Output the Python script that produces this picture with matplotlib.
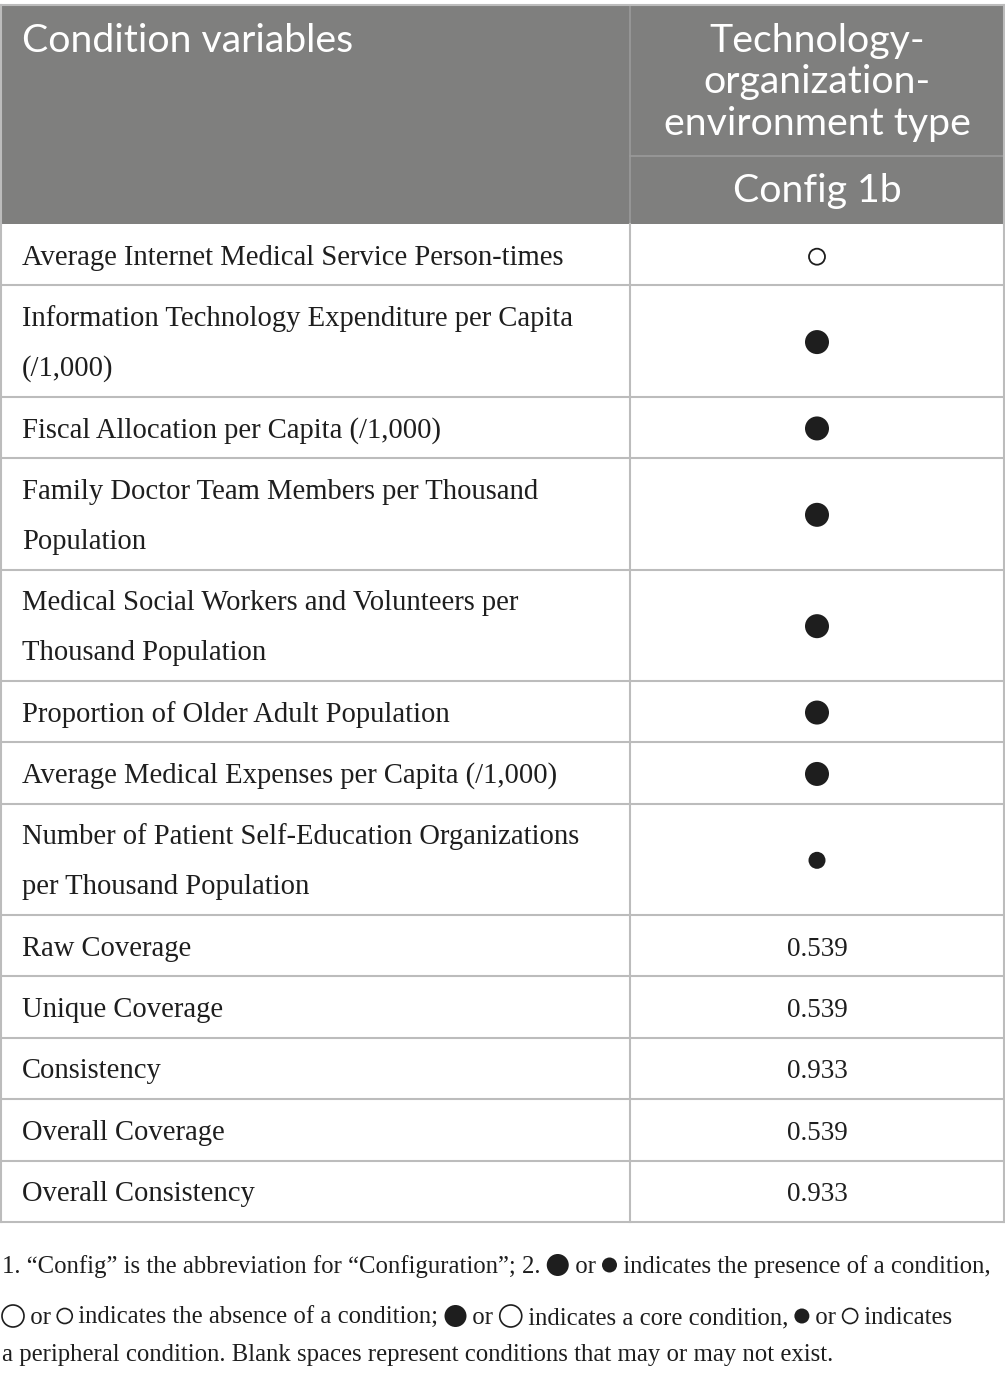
import matplotlib.pyplot as plt
from matplotlib.patches import Rectangle, Circle

# table content
conditions = [
    "Average Internet Medical Service Person-times",
    "Information Technology Expenditure per Capita\n(/1,000)",
    "Fiscal Allocation per Capita (/1,000)",
    "Family Doctor Team Members per Thousand\nPopulation",
    "Medical Social Workers and Volunteers per\nThousand Population",
    "Proportion of Older Adult Population",
    "Average Medical Expenses per Capita (/1,000)",
    "Number of Patient Self-Education Organizations\nper Thousand Population",
]
# C = core present, c = peripheral present, o = peripheral absent
config_1b = ["o", "C", "C", "C", "C", "C", "C", "c"]

stat_labels = ["Raw Coverage", "Unique Coverage", "Consistency",
               "Overall Coverage", "Overall Consistency"]
stat_values = ["0.539", "0.539", "0.933", "0.539", "0.933"]

header_left = "Condition variables"
header_group = "Technology-\norganization-\nenvironment type"
header_config = "Config 1b"

W, H = 1005, 1374
fig = plt.figure(figsize=(W / 100, H / 100), dpi=100)
ax = fig.add_axes([0, 0, 1, 1])
ax.set_xlim(0, W)
ax.set_ylim(H, 0)
ax.axis('off')

serif = ['Liberation Serif', 'DejaVu Serif']
sans = 'Lato'
grey = '#7f7f7e'
line_c = '#bcbcbc'
ink = '#1e1e1e'
x0, xm, x1 = 1, 630, 1004
xc = 817
top, head_split, head_bot = 5, 156, 224

# header
ax.add_patch(Rectangle((x0, top), x1 - x0, head_bot - top, color=grey, lw=0))
ax.plot([xm, xm], [top, head_bot], color='#9a9a9a', lw=1.2)
ax.plot([xm, x1], [head_split, head_split], color='#9a9a9a', lw=1.2)
ax.text(22, 41, header_left, color='white', fontsize=28.3, family=sans,
        va='center', ha='left')
for i, ln in enumerate(header_group.split("\n")):
    ax.text(xc, 41 + i * 41.5, ln, color='white', fontsize=28.3, family=sans,
            va='center', ha='center')
ax.text(xc, 191, header_config, color='white', fontsize=28.3, family=sans,
        va='center', ha='center')

# body rows
labels = conditions + stat_labels
cells = config_1b + stat_values
y = head_bot
edges = [y]
for lab, cell in zip(labels, cells):
    n = lab.count("\n") + 1
    h = 61.4 if n == 1 else 111.35
    mid = y + h / 2
    for i, ln in enumerate(lab.split("\n")):
        ax.text(22, mid + 10 + (i - (n - 1) / 2) * 50, ln, fontsize=20.6,
                family=serif, color=ink, va='baseline', ha='left')
    if cell == "C":
        ax.add_patch(Circle((xc, mid + 1), 12, color=ink, lw=0))
    elif cell == "c":
        ax.add_patch(Circle((xc, mid + 1), 8.5, color=ink, lw=0))
    elif cell == "o":
        ax.add_patch(Circle((xc, mid + 2), 8, fill=False, ec=ink, lw=1.3))
    else:
        ax.text(xc, mid + 10, cell, fontsize=19.5, family=serif, color=ink,
                va='baseline', ha='center')
    y += h
    edges.append(y)

for e in edges[1:]:
    ax.plot([x0, x1], [e, e], color=line_c, lw=1.5)
ax.plot([x0, x1], [top, top], color=line_c, lw=1.5)
for xx in (x0, xm, x1):
    ax.plot([xx, xx], [head_bot, edges[-1]], color=line_c, lw=1.5)
ax.plot([x0, x0], [top, head_bot], color=line_c, lw=1.5)
ax.plot([x1, x1], [top, head_bot], color=line_c, lw=1.5)

# footnote, drawn piece by piece so the circle symbols sit inline
note = [
    ["1. \u201cConfig\u201d is the abbreviation for \u201cConfiguration\u201d; 2. ",
     "C", " or ", "c", " indicates the presence of a condition,"],
    ["O", " or ", "o", " indicates the absence of a condition; ", "C", " or ",
     "O", " indicates a core condition, ", "c", " or ", "o", " indicates"],
    ["a peripheral condition. Blank spaces represent conditions that may or may not exist."],
]
note_y = [1273, 1324, 1361]
fig.canvas.draw()
rend = fig.canvas.get_renderer()
sizes = {"C": 11, "c": 7.5, "O": 11, "o": 7.5}
for parts, ly in zip(note, note_y):
    x = 2
    for p in parts:
        if p in sizes:
            r = sizes[p]
            if p in ("O", "o"):
                ax.add_patch(Circle((x + r, ly - 8), r, fill=False, ec=ink, lw=1.2))
            else:
                ax.add_patch(Circle((x + r, ly - 8), r, color=ink, lw=0))
            x += 2 * r
        else:
            t = ax.text(x, ly, p, fontsize=17.8, family=serif, color=ink,
                        va='baseline', ha='left')
            bb = t.get_window_extent(rend)
            x += bb.width

fig.savefig("out.png", dpi=100, facecolor='white')
